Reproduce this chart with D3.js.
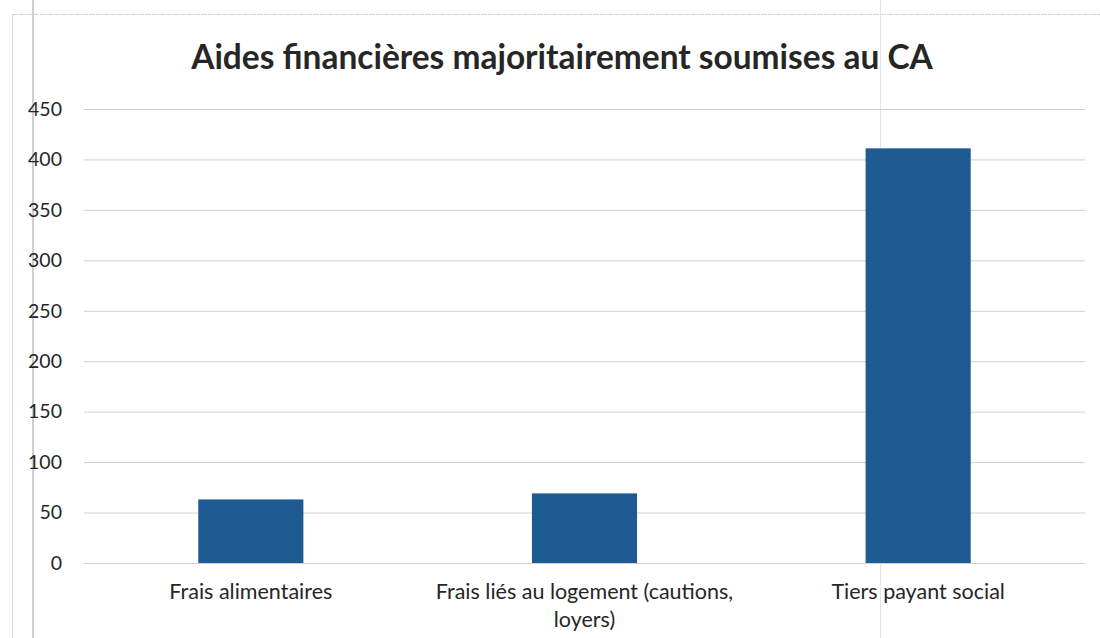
<!DOCTYPE html>
<html>
<head>
<meta charset="utf-8">
<script src="https://cdn.jsdelivr.net/npm/d3@7"></script>
<style>
  html, body { margin: 0; padding: 0; background: #fff; }
  svg { display: block; }
</style>
</head>
<body>
<svg id="chart" width="1100" height="638"></svg>
<script>
// Aides financières – nombre de dossiers par type d'aide
const categories = [
  "Frais alimentaires",
  "Frais liés au logement (cautions, loyers)",
  "Tiers payant social"
];
const values = [63, 69, 411];
const yTicks = [0, 50, 100, 150, 200, 250, 300, 350, 400, 450];
const chartTitle = "Aides financières majoritairement soumises au CA";

const W = 1100, H = 638;
const margin = { left: 84, right: 15, top: 109, bottom: 75 };
const font = "Lato, 'Open Sans', 'Liberation Sans', sans-serif";
const labelSize = 21.5;

const svg = d3.select("#chart");

// frame of the chart area
svg.append("line").attr("x1", 12).attr("x2", W).attr("y1", 14.5).attr("y2", 14.5)
  .attr("stroke", "#d4d4d4").attr("stroke-width", 1).attr("stroke-dasharray", "6,1");
svg.append("line").attr("x1", 12.5).attr("x2", 12.5).attr("y1", 14).attr("y2", H)
  .attr("stroke", "#d8d8d8").attr("stroke-width", 1);
svg.append("line").attr("x1", 33).attr("x2", 33).attr("y1", 0).attr("y2", H)
  .attr("stroke", "#b0b0b0").attr("stroke-width", 1.2);
svg.append("line").attr("x1", 880.5).attr("x2", 880.5).attr("y1", 0).attr("y2", H)
  .attr("stroke", "#e4e4e4").attr("stroke-width", 1);

const x = d3.scaleBand()
  .domain(categories)
  .range([margin.left, W - margin.right])
  .paddingInner(0).paddingOuter(0);

const y = d3.scaleLinear()
  .domain([0, 450])
  .range([H - margin.bottom, margin.top]);

// horizontal gridlines
const yAxis = d3.axisLeft(y)
  .tickValues(yTicks)
  .tickSize(-(W - margin.right - margin.left))
  .tickPadding(22)
  .tickFormat(d3.format("d"));

const gy = svg.append("g")
  .attr("transform", `translate(${margin.left},0)`)
  .call(yAxis);
gy.select(".domain").remove();
gy.selectAll(".tick line")
  .attr("stroke", "#cfcfcf").attr("stroke-width", 1);
gy.selectAll(".tick text")
  .attr("font-family", font).attr("font-size", 19.5).attr("fill", "#262626");

// bars
const barW = x.bandwidth() * 0.315;
svg.append("g").selectAll("rect")
  .data(categories)
  .join("rect")
  .attr("x", d => x(d) + x.bandwidth() / 2 - barW / 2)
  .attr("width", barW)
  .attr("y", (d, i) => y(values[i]))
  .attr("height", (d, i) => y(0) - y(values[i]))
  .attr("fill", "#1f5b93");

// category labels (wrapped to the band width)
const xAxis = d3.axisBottom(x).tickSize(0).tickPadding(0);
const gx = svg.append("g")
  .attr("transform", `translate(0,${y(0)})`)
  .call(xAxis);
gx.select(".domain").remove();
gx.selectAll(".tick text").remove();
gx.selectAll(".tick").each(function(d) {
  const t = d3.select(this).append("text")
    .attr("text-anchor", "middle")
    .attr("font-family", font).attr("font-size", labelSize).attr("fill", "#262626");
  const words = d.split(" ");
  const maxW = x.bandwidth() * 0.95;
  let lines = [], line = [];
  const probe = t.append("tspan");
  words.forEach(w => {
    const test = line.concat(w).join(" ");
    probe.text(test);
    if (probe.node().getComputedTextLength() > maxW && line.length) {
      lines.push(line.join(" "));
      line = [w];
    } else line = test.split(" ");
  });
  lines.push(line.join(" "));
  probe.remove();
  lines.forEach((l, i) => {
    t.append("tspan").attr("x", 0).attr("y", 36 + i * 28).text(l);
  });
});

// title
const title = svg.append("text")
  .attr("x", 562).attr("y", 69)
  .attr("text-anchor", "middle")
  .attr("font-family", font).attr("font-weight", "bold")
  .attr("font-size", 100).attr("fill", "#262626")
  .text(chartTitle);
const tw = title.node().getComputedTextLength();
title.attr("font-size", 100 * 742 / tw);
</script>
</body>
</html>
